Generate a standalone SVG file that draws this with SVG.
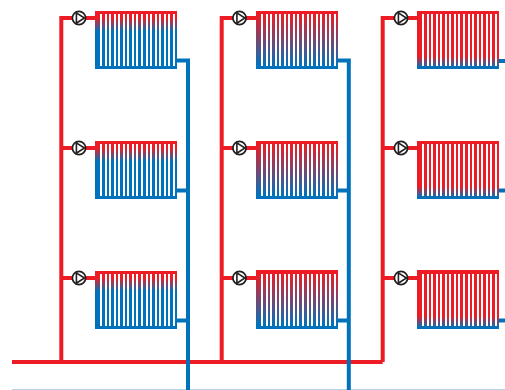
<svg xmlns="http://www.w3.org/2000/svg" xmlns:xlink="http://www.w3.org/1999/xlink" width="505" height="390" viewBox="0 0 505 390">
<style>
.r{fill:none;stroke:#ed1c24;stroke-width:4}
.b{fill:none;stroke:#0072bc;stroke-width:4}
.g{fill:#fff}
.p{fill:#fff;stroke:#231f20;stroke-width:1.7}
</style>
<defs>
<linearGradient id="g1" x1="0" y1="0" x2="0" y2="1"><stop offset="0.12" stop-color="#ed1c24"/><stop offset="0.35" stop-color="#0072bc"/></linearGradient>
<linearGradient id="g2" x1="0" y1="0" x2="0" y2="1"><stop offset="0.06" stop-color="#ed1c24"/><stop offset="0.94" stop-color="#0072bc"/></linearGradient>
<linearGradient id="g3" x1="0" y1="0" x2="0" y2="1"><stop offset="0.78" stop-color="#ed1c24"/><stop offset="0.97" stop-color="#0072bc"/></linearGradient>
<g id="gaps"><rect class="g" x="5" y="3" width="2" height="52"/><rect class="g" x="10" y="3" width="2" height="52"/><rect class="g" x="14" y="3" width="2" height="52"/><rect class="g" x="19" y="3" width="2" height="52"/><rect class="g" x="23" y="3" width="2" height="52"/><rect class="g" x="28" y="3" width="2" height="52"/><rect class="g" x="32" y="3" width="2" height="52"/><rect class="g" x="37" y="3" width="2" height="52"/><rect class="g" x="41" y="3" width="2" height="52"/><rect class="g" x="46" y="3" width="2" height="52"/><rect class="g" x="51" y="3" width="2" height="52"/><rect class="g" x="55" y="3" width="2" height="52"/><rect class="g" x="60" y="3" width="2" height="52"/><rect class="g" x="64" y="3" width="2" height="52"/><rect class="g" x="69" y="3" width="2" height="52"/><rect class="g" x="73" y="3" width="2" height="52"/><rect class="g" x="78" y="3" width="2" height="52"/></g>
<g id="pump"><circle class="p" r="6.600"/><path d="M-2.600 -5.200L5.400 0L-2.600 5.200Z" fill="none" stroke="#231f20" stroke-width="1.600"/></g>
</defs>
<rect width="505" height="390" fill="#fff"/>
<g id="connectors">
<path d="M12 389.500H505" fill="none" stroke="#b9d3e6" stroke-width="1"/>
<path class="r" d="M12 362H382.700M61.300 362V18H95M221.700 362V18H256M382.700 362V18H417M61.300 148H95M61.300 278H95M221.700 148H256M221.700 278H256M382.700 148H417M382.700 278H417"/>
<path class="b" d="M177 60.500H188V390M177 190.500H188M177 320.500H188M338 60.500H348.800V390M338 190.500H348.800M338 320.500H348.800M499 61H505M499 190.500H505M499 320.500H505"/>
</g>
<g id="rad-1-1"><rect x="95" y="11" width="82" height="58" fill="url(#g1)"/><use xlink:href="#gaps" x="95" y="11"/></g>
<g id="rad-1-2"><rect x="95" y="141" width="82" height="58" fill="url(#g1)"/><use xlink:href="#gaps" x="95" y="141"/></g>
<g id="rad-1-3"><rect x="95" y="271" width="82" height="58" fill="url(#g1)"/><use xlink:href="#gaps" x="95" y="271"/></g>
<g id="rad-2-1"><rect x="256" y="11" width="82" height="58" fill="url(#g2)"/><use xlink:href="#gaps" x="256" y="11"/></g>
<g id="rad-2-2"><rect x="256" y="141" width="82" height="58" fill="url(#g2)"/><use xlink:href="#gaps" x="256" y="141"/></g>
<g id="rad-2-3"><rect x="256" y="270" width="82" height="59" fill="url(#g2)"/><use xlink:href="#gaps" x="256" y="271"/></g>
<g id="rad-3-1"><rect x="417" y="11" width="82" height="58" fill="url(#g3)"/><use xlink:href="#gaps" x="417" y="11"/></g>
<g id="rad-3-2"><rect x="417" y="141" width="82" height="58" fill="url(#g3)"/><use xlink:href="#gaps" x="417" y="141"/></g>
<g id="rad-3-3"><rect x="417" y="270" width="82" height="59" fill="url(#g3)"/><use xlink:href="#gaps" x="417" y="271"/></g>
<g id="pump-1-1"><use xlink:href="#pump" x="79" y="18"/></g>
<g id="pump-1-2"><use xlink:href="#pump" x="79" y="148"/></g>
<g id="pump-1-3"><use xlink:href="#pump" x="79" y="278"/></g>
<g id="pump-2-1"><use xlink:href="#pump" x="239.500" y="18"/></g>
<g id="pump-2-2"><use xlink:href="#pump" x="239.500" y="148"/></g>
<g id="pump-2-3"><use xlink:href="#pump" x="239.500" y="278"/></g>
<g id="pump-3-1"><use xlink:href="#pump" x="401" y="18"/></g>
<g id="pump-3-2"><use xlink:href="#pump" x="401" y="148"/></g>
<g id="pump-3-3"><use xlink:href="#pump" x="401" y="278"/></g>
</svg>
